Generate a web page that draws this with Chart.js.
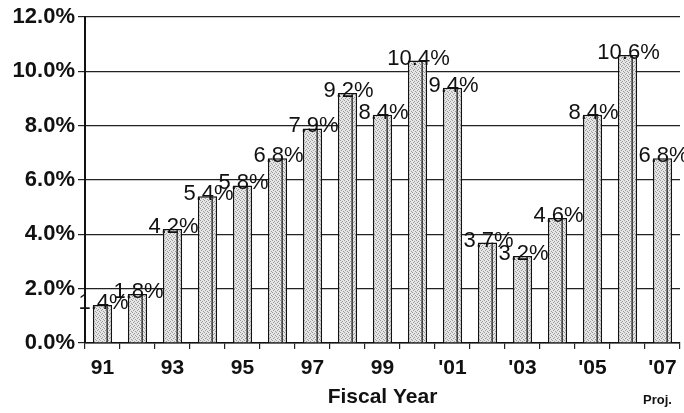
<!DOCTYPE html>
<html>
<head>
<meta charset="utf-8">
<script src="https://cdn.jsdelivr.net/npm/chart.js@4.4.1/dist/chart.umd.min.js"></script>
<style>
  html, body { margin: 0; padding: 0; background: #fff; }
  #wrap { width: 684px; height: 413px; }
</style>
</head>
<body>
<div id="wrap"><canvas id="c" width="684" height="413"></canvas></div>
<script>
const categories = ['91','92','93','94','95','96','97','98','99','00',"'01","'02","'03","'04","'05","'06","'07"];
const growthValues = [1.4, 1.8, 4.2, 5.4, 5.8, 6.8, 7.9, 9.2, 8.4, 10.4, 9.4, 3.7, 3.2, 4.6, 8.4, 10.6, 6.8];
const shownTickLabels = ['91','93','95','97','99',"'01","'03","'05","'07"];
const yTicks = [0, 2, 4, 6, 8, 10, 12];
const axisTitle = 'Fiscal Year';
const projNote = 'Proj.';

const FONT = '"Liberation Sans", Arial, sans-serif';

// stipple texture for bars (fixed pattern)
function makePattern() {
  const p = document.createElement('canvas');
  p.width = 4; p.height = 4;
  const g = p.getContext('2d');
  g.fillStyle = '#e6e6e6';
  g.fillRect(0, 0, 4, 4);
  g.fillStyle = '#9a9a9a';
  g.fillRect(0, 0, 1, 1);
  g.fillRect(2, 1, 1, 1);
  g.fillRect(1, 2, 1, 1);
  g.fillRect(3, 3, 1, 1);
  return g.createPattern(p, 'repeat');
}

const barDecor = {
  id: 'barDecor',
  afterDatasetsDraw(chart) {
    const ctx = chart.ctx;
    const meta = chart.getDatasetMeta(0);
    ctx.save();
    meta.data.forEach((bar) => {
      const w = bar.width;
      const xr = bar.x + w / 2;
      ctx.strokeStyle = '#111';
      ctx.lineWidth = 1.2;
      ctx.beginPath();
      ctx.moveTo(xr - 5, bar.y);
      ctx.lineTo(xr - 5, bar.base);
      ctx.stroke();
    });
    ctx.restore();
  },
  afterDraw(chart) {
    const ctx = chart.ctx;
    const meta = chart.getDatasetMeta(0);
    ctx.save();
    ctx.fillStyle = '#111';
    ctx.font = '22px ' + FONT;
    ctx.textAlign = 'center';
    ctx.textBaseline = 'middle';
    meta.data.forEach((bar, i) => {
      ctx.fillText(growthValues[i].toFixed(1) + '%', bar.x + 1, bar.y - 2);
    });
    const xs = chart.scales.x;
    const lastX = xs.getPixelForValue(categories.length - 1);
    ctx.font = 'bold 13px ' + FONT;
    ctx.fillText(projNote, lastX - 5, 400);
    ctx.restore();
  }
};

new Chart(document.getElementById('c'), {
  type: 'bar',
  data: {
    labels: categories,
    datasets: [{
      data: growthValues,
      backgroundColor: makePattern(),
      borderColor: '#111',
      borderWidth: 1.5,
      barPercentage: 0.55,
      categoryPercentage: 1.0
    }]
  },
  options: {
    responsive: false,
    animation: false,
    devicePixelRatio: 1,
    layout: { padding: { top: 17, right: 4, left: 0, bottom: 0 } },
    plugins: { legend: { display: false }, tooltip: { enabled: false } },
    scales: {
      x: {
        offset: true,
        grid: {
          offset: true,
          drawOnChartArea: true,
          color: (c) => (c.index === categories.length ? '#222' : 'rgba(0,0,0,0)'),
          tickColor: '#222',
          tickLength: 6,
          lineWidth: 1.2
        },
        border: { color: '#111', width: 1.5 },
        ticks: {
          autoSkip: false,
          maxRotation: 0,
          padding: 7,
          color: '#111',
          font: { family: FONT, size: 21, weight: 'bold' },
          callback: (v, i) => (shownTickLabels.includes(categories[i]) ? categories[i] : '')
        },
        title: {
          display: true,
          text: axisTitle,
          color: '#111',
          font: { family: FONT, size: 21, weight: 'bold' },
          padding: { top: 0, bottom: 3 }
        },
        afterFit: (s) => { s.height = 70; }
      },
      y: {
        min: 0,
        max: 12,
        afterBuildTicks: (s) => { s.ticks = yTicks.map((v) => ({ value: v })); },
        grid: { color: '#222', lineWidth: 1.2, tickLength: 7, tickColor: '#222' },
        border: { color: '#111', width: 2 },
        ticks: {
          padding: 3,
          color: '#111',
          font: { family: FONT, size: 22, weight: 'bold' },
          callback: (v) => Number(v).toFixed(1) + '%'
        },
        afterFit: (s) => { s.width = 85; }
      }
    }
  },
  plugins: [barDecor]
});
</script>
</body>
</html>
